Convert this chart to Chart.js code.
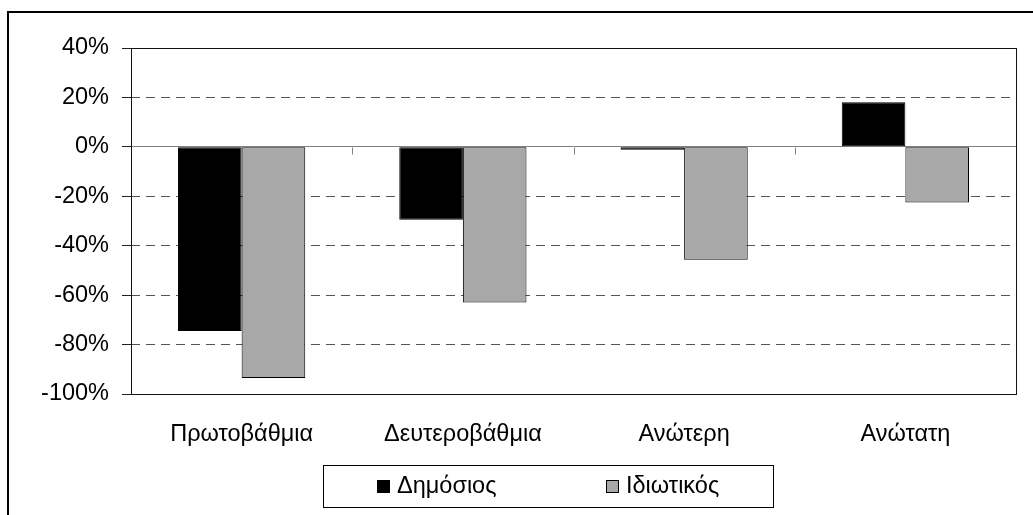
<!DOCTYPE html>
<html>
<head>
<meta charset="utf-8">
<script src="https://cdn.jsdelivr.net/npm/chart.js@4/dist/chart.umd.min.js"></script>
<style>
  html, body { margin: 0; padding: 0; background: #fff; }
  #wrap { position: relative; width: 1033px; height: 515px; overflow: hidden; }
  #frame { position: absolute; left: 7px; top: 11px; width: 1100px; height: 600px;
           border-left: 2px solid #000; border-top: 2px solid #000; }
  #chart { position: absolute; left: 0; top: 0; }
</style>
</head>
<body>
<div id="wrap">
  <div id="frame"></div>
  <canvas id="chart" width="1033" height="515"></canvas>
</div>
<script>
// data
const categories = ['Πρωτοβάθμια', 'Δευτεροβάθμια', 'Ανώτερη', 'Ανώτατη'];
const seriesNames = ['Δημόσιος', 'Ιδιωτικός'];
const publicValues = [-74.5, -29.5, -1.2, 18];
const privateValues = [-93.5, -63, -45.7, -22.5];
const yTicks = [-100, -80, -60, -40, -20, 0, 20, 40];

const FONT = { family: 'Arial, "Liberation Sans", sans-serif', size: 23.5 };

// frame around the plot, little category ticks on the zero line
const plotFrame = {
    id: 'plotFrame',
    afterDatasetsDraw(chart) {
        const { ctx, chartArea: a, scales: { x, y } } = chart;
        ctx.save();
        const y0 = Math.round(y.getPixelForValue(0)) + 0.5;
        ctx.strokeStyle = '#808080';
        ctx.lineWidth = 1;
        ctx.beginPath();
        for (let i = 0; i <= categories.length; i++) {
            const px = Math.round(x.getPixelForValue(i - 0.5)) + 0.5;
            ctx.moveTo(px, y0);
            ctx.lineTo(px, y0 + 7);
        }
        ctx.stroke();
        ctx.strokeStyle = '#111';
        ctx.strokeRect(Math.round(a.left) + 0.5, Math.round(a.top) + 0.5,
            Math.round(a.right - a.left), Math.round(a.bottom - a.top));
        ctx.restore();
    }
};

// Excel-style boxed legend below the axis labels
const boxedLegend = {
    id: 'boxedLegend',
    afterDraw(chart) {
        const ctx = chart.ctx;
        const box = { left: 323, top: 465, width: 450, height: 42 };
        const itemX = [377, 606];
        const midY = box.top + box.height / 2;
        ctx.save();
        ctx.strokeStyle = '#000';
        ctx.lineWidth = 1;
        ctx.strokeRect(box.left + 0.5, box.top + 0.5, box.width, box.height);
        ctx.font = FONT.size + 'px ' + FONT.family;
        ctx.textBaseline = 'middle';
        chart.data.datasets.forEach((ds, i) => {
            ctx.fillStyle = ds.backgroundColor;
            ctx.fillRect(itemX[i], midY - 6, 13, 13);
            ctx.strokeStyle = '#000';
            ctx.strokeRect(itemX[i] + 0.5, midY - 6 + 0.5, 12, 12);
            ctx.fillStyle = '#000';
            ctx.fillText(ds.label, itemX[i] + 20, midY + 1);
        });
        ctx.restore();
    }
};

new Chart(document.getElementById('chart'), {
    type: 'bar',
    data: {
        labels: categories,
        datasets: [
            { label: seriesNames[0], data: publicValues, backgroundColor: '#000000',
              borderColor: '#000', borderWidth: 1, borderSkipped: false },
            { label: seriesNames[1], data: privateValues, backgroundColor: '#a8a8a8',
              borderColor: '#000', borderWidth: 1, borderSkipped: false }
        ]
    },
    options: {
        responsive: false,
        animation: false,
        layout: { padding: { left: 0, right: 17, top: 48, bottom: 0 } },
        datasets: { bar: { barPercentage: 1, categoryPercentage: 0.575 } },
        plugins: { legend: { display: false }, tooltip: { enabled: false } },
        scales: {
            x: {
                grid: { display: false, drawTicks: false },
                border: { display: false },
                ticks: { color: '#000', font: FONT, padding: 26 },
                afterFit(scale) { scale.height = 121; }
            },
            y: {
                min: -100, max: 40,
                afterBuildTicks(scale) { scale.ticks = yTicks.map(v => ({ value: v })); },
                afterFit(scale) { scale.width = 131; },
                ticks: { color: '#000', font: FONT, padding: 13, callback: v => v + '%' },
                border: {
                    display: false,
                    dash: c => (c.tick && (c.tick.value === 0 || c.tick.value === 40 || c.tick.value === -100)) ? [] : [9, 6]
                },
                grid: {
                    color: c => {
                        if (!c.tick) return '#555';
                        if (c.tick.value === 0) return '#808080';
                        if (c.tick.value === 40 || c.tick.value === -100) return 'rgba(0,0,0,0)';
                        return '#555';
                    },
                    lineWidth: 1,
                    tickLength: 9,
                    tickColor: '#222',
                    tickBorderDash: []
                }
            }
        }
    },
    plugins: [plotFrame, boxedLegend]
});
</script>
</body>
</html>
